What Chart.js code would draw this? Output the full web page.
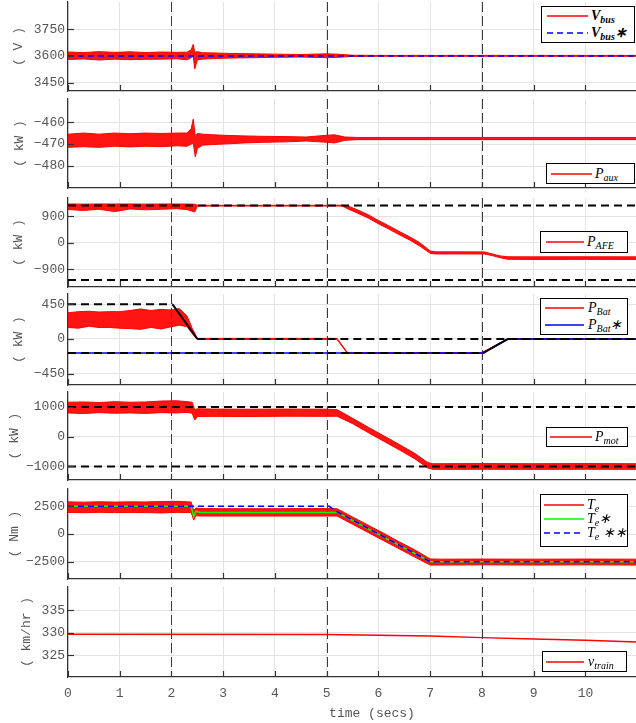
<!DOCTYPE html>
<html><head><meta charset="utf-8">
<script src="https://cdn.jsdelivr.net/npm/chart.js@4"></script>
<style>
html,body{margin:0;padding:0;background:#fff;}
#wrap{position:relative;width:636px;height:723px;overflow:hidden;background:#fff;}
#wrap canvas{position:absolute;left:0;}
.lg{position:absolute;background:#fff;border:1px solid #000;box-sizing:border-box;font-family:"Liberation Serif","Times New Roman",serif;font-style:italic;font-size:14px;color:#000;}
.lg svg{position:absolute;}
.lg span{position:absolute;line-height:18px;white-space:nowrap;}
.lg sub{font-size:10px;vertical-align:-3px;line-height:0;}
</style></head>
<body><div id="wrap"></div>
<script>
// ---------------- data ----------------
const xTicks = [0,1,2,3,4,5,6,7,8,9,10];
const eventTimes = [2,5,8];

// Panel 1: V_bus (noise envelope)
const vbusTicks = [3450,3600,3750];
const vbusT  = [0,0.3,0.6,0.9,1.2,1.5,1.8,2.1,2.3,2.38,2.42,2.45,2.5,2.6,2.8,3.0,3.3,3.6,4.0,4.5,5.0,5.2,5.5,6.0,11];
const vbusHi = [3622,3619,3624,3620,3623,3619,3622,3620,3621,3635,3665,3620,3624,3618,3617,3615,3613,3612,3610,3608,3612,3610,3604,3603,3603];
const vbusLo = [3580,3583,3577,3582,3579,3581,3582,3584,3578,3590,3598,3527,3578,3582,3585,3587,3589,3590,3592,3594,3590,3592,3597,3598,3598];
const vbusRefT = [0,11];
const vbusRef  = [3600,3600];

// Panel 2: P_aux
const pauxTicks = [-480,-470,-460];
const pauxT  = [0,0.3,0.6,0.9,1.2,1.5,1.8,2.1,2.3,2.38,2.42,2.46,2.5,2.6,2.8,3.0,3.4,3.8,4.2,4.6,5.0,5.15,5.35,5.6,11];
const pauxHi = [-465.5,-465,-465.5,-465,-465.3,-465,-465.2,-465,-465,-463,-458.7,-466.5,-465.2,-465.5,-465.8,-466,-466.3,-466.5,-466.6,-466.8,-466,-465.8,-466.8,-467,-467];
const pauxLo = [-471.5,-471.2,-471.5,-471,-471.3,-471,-471.2,-470.8,-471,-470,-469.5,-475.8,-472,-470.5,-470.2,-470,-469.5,-469.2,-469,-468.6,-469.2,-469.5,-468.3,-468,-468];

// Panel 3: P_AFE
const afeTicks = [-900,0,900];
const afeT  = [0,0.3,0.6,0.9,1.2,1.5,1.8,2.1,2.3,2.45,2.5,5.3,5.4,5.6,5.8,6.0,6.2,6.4,6.6,6.8,7.0,7.1,7.5,8.05,8.2,8.35,8.5,9,10,11];
const afeHi = [1320,1315,1320,1318,1320,1315,1320,1320,1318,1310,1275,1275,1260,1115,955,755,575,385,205,-5,-280,-310,-312,-315,-385,-450,-480,-482,-480,-482];
const afeLo = [1130,1100,1140,1060,1150,1120,1140,1160,1130,1050,1250,1250,1160,1005,845,645,465,275,95,-115,-360,-385,-383,-385,-440,-510,-565,-570,-568,-570];
const afeLimT = [0,11];
const afeUp   = [1270,1270];
const afeDn   = [-1270,-1270];

// Panel 4: P_Bat
const pbatTicks = [-450,0,450];
const pbatT  = [0,0.2,0.4,0.6,0.8,1.0,1.2,1.4,1.6,1.8,2.0,2.15,2.3,2.4,2.5,5.2,5.4,8.0,8.5,11];
const pbatHi = [340,355,360,350,355,355,370,390,370,385,375,395,300,140,8,8,-176,-176,6,6];
const pbatLo = [150,140,165,150,150,140,135,125,150,130,160,180,160,70,-6,-6,-188,-188,-6,-6];
const pbatUpT = [0,2.02,2.5,11];
const pbatUp  = [450,450,0,0];
const pbatDnT = [0,8.02,8.5,11];
const pbatDn  = [-182,-182,0,0];
const pbatRefT = [0,8.02,8.5,11];
const pbatRef  = [-182,-182,0,0];

// Panel 5: P_mot
const pmotTicks = [-1000,0,1000];
const pmotT  = [0,0.3,0.6,0.9,1.2,1.5,1.8,2.1,2.3,2.4,2.45,2.5,2.8,3.5,4.2,5.0,5.2,5.5,5.8,6.1,6.4,6.7,6.95,7.05,8,9,10,11];
const pmotHi = [1160,1170,1150,1180,1160,1170,1200,1210,1180,1160,900,940,930,925,930,925,910,620,320,30,-260,-560,-870,-910,-905,-910,-905,-910];
const pmotLo = [800,780,810,790,800,785,810,800,820,790,560,680,685,680,690,685,690,440,140,-150,-440,-740,-1050,-1100,-1095,-1100,-1095,-1100];
const pmotLimT = [0,11];
const pmotUp   = [1000,1000];
const pmotDn   = [-1000,-1000];

// Panel 6: T_e
const teTicks = [-2500,0,2500];
const teT  = [0,0.3,0.6,0.9,1.2,1.5,1.8,2.1,2.3,2.38,2.43,2.47,2.55,3,4,5,5.2,5.5,5.8,6.1,6.4,6.7,7.0,7.2,8,9,10,11];
const teHi = [2900,2870,2910,2880,2900,2890,2930,2950,2900,2880,2100,2350,2300,2280,2280,2300,2280,1530,800,60,-700,-1430,-2250,-2270,-2260,-2270,-2260,-2270];
const teLo = [1950,1920,1960,1930,1950,1930,1900,1950,1940,1950,1250,1650,1620,1620,1620,1620,1620,880,140,-600,-1340,-2080,-2800,-2800,-2780,-2800,-2780,-2800];
const teStarT = [0,2.38,2.43,2.47,2.55,5.2,7.0,11];
const teStar  = [2500,2500,1550,2050,1950,1950,-2500,-2500];
const teRefT  = [0,5.05,5.2,7.0,11];
const teRef   = [2500,2500,2000,-2500,-2500];

// Panel 7: v_train
const vTicks = [325,330,335];
const vT     = [0,5,6,7,8,9,10,11];
const vTrain = [329.7,329.65,329.5,329.3,328.95,328.65,328.35,328.0];

// ---------------- drawing ----------------
const X_MAX = 11.75;
const PAD = 14;
const RED = '#ff0000', BLUE = '#0000ff', GREEN = '#00ff00', BLK = '#000000';
const FILL = 'rgba(255,0,0,0.92)';
const MONO = '"Liberation Mono","DejaVu Sans Mono",monospace';
const TXT = '#555555';
const wrap = document.getElementById('wrap');

function pts(t, v){ return t.map((x,i)=>({x:x, y:v[i]})); }
function fmt(v){ return v < 0 ? '\u2212' + Math.abs(v) : String(v); }
function line(t, v, color, width, dash){
  return {data:pts(t,v), borderColor:color, borderWidth:width, borderDash:dash||[], pointRadius:0, fill:false, tension:0};
}
function limit(t, v){
  return {data:pts(t,v), borderColor:BLK, borderWidth:2, borderDash:[], pointRadius:0, fill:false, tension:0,
    segment:{borderDash: c => (c.p0.parsed.y === c.p1.parsed.y ? [8,5] : [])}};
}
function band(t, hi, lo){
  return [
    {data:pts(t,hi), borderColor:RED, borderWidth:1, pointRadius:0, fill:'+1', backgroundColor:FILL, tension:0},
    {data:pts(t,lo), borderColor:RED, borderWidth:1, pointRadius:0, fill:false, tension:0}
  ];
}

const decor = {
  id:'decor',
  beforeDatasetsDraw(chart){
    const {ctx, chartArea:a, scales:{x}} = chart;
    ctx.save();
    ctx.beginPath(); ctx.rect(a.left, a.top, a.right-a.left, a.bottom-a.top); ctx.clip();
    ctx.strokeStyle = '#3a3a3a'; ctx.lineWidth = 1; ctx.setLineDash([10,4]);
    eventTimes.forEach(v => {
      const px = Math.round(x.getPixelForValue(v)) + 0.5;
      ctx.beginPath(); ctx.moveTo(px, a.top); ctx.lineTo(px, a.bottom); ctx.stroke();
    });
    ctx.restore();
  },
  afterDraw(chart){
    const {ctx, chartArea:a, scales:{x, y}} = chart;
    ctx.save();
    ctx.strokeStyle = '#333'; ctx.lineWidth = 1.2; ctx.setLineDash([]);
    y.ticks.forEach(t => {
      const py = Math.round(y.getPixelForValue(t.value)) + 0.5;
      ctx.beginPath(); ctx.moveTo(a.left, py); ctx.lineTo(a.left + 6, py); ctx.stroke();
    });
    x.ticks.forEach(t => {
      const px = Math.round(x.getPixelForValue(t.value)) + 0.5;
      ctx.beginPath(); ctx.moveTo(px, a.bottom); ctx.lineTo(px, a.bottom - 6); ctx.stroke();
    });
    ctx.restore();
  }
};

function panel(p){
  const last = !!p.last;
  const h = p.h + PAD + (last ? 46 : PAD);
  const cv = document.createElement('canvas');
  cv.width = 676; cv.height = h;
  cv.style.width = '676px'; cv.style.height = h + 'px';
  cv.style.top = (p.top - PAD) + 'px';
  wrap.appendChild(cv);
  new Chart(cv, {
    type:'line',
    data:{datasets:p.datasets},
    plugins:[decor],
    options:{
      responsive:false, animation:false, devicePixelRatio:1,
      layout:{padding:{top:PAD, bottom:last?0:PAD, left:0, right:0}},
      plugins:{legend:{display:false}, tooltip:{enabled:false}},
      scales:{
        x:{type:'linear', min:0, max:X_MAX,
          afterBuildTicks: s => { s.ticks = xTicks.map(v => ({value:v})); },
          afterFit: s => { s.height = last ? 46 : 0; },
          grid:{color:'#e3e3e3', lineWidth:1, drawTicks:false},
          border:{display:true, color:'#333', width:1.2},
          ticks:{display:last, padding:9, autoSkip:false, maxRotation:0, font:{family:MONO, size:13}, color:TXT},
          title:{display:last, text:'time (secs)', font:{family:MONO, size:13}, color:TXT, padding:{top:0, bottom:2}}
        },
        y:{type:'linear', min:p.min, max:p.max,
          afterBuildTicks: s => { s.ticks = p.ticks.map(v => ({value:v})); },
          afterFit: s => { s.width = 68; },
          grid:{color:'#e3e3e3', lineWidth:1, drawTicks:false},
          border:{display:true, color:'#333', width:1.2},
          ticks:{padding:3, font:{family:MONO, size:13}, color:TXT, callback: v => fmt(v)},
          title:{display:true, text:p.title, font:{family:MONO, size:13}, color:TXT, padding:{top:p.tpad, bottom:0}}
        }
      }
    }
  });
}

panel({top:2, h:89, min:3403, max:3903, ticks:vbusTicks, title:'( V )', tpad:11,
  datasets:[line(vbusRefT, vbusRef, BLUE, 1.5, [6,4]), ...band(vbusT, vbusHi, vbusLo)]});
panel({top:99, h:89, min:-490, max:-449.5, ticks:pauxTicks, title:'( kW )', tpad:12,
  datasets:[...band(pauxT, pauxHi, pauxLo)]});
panel({top:198, h:89, min:-1510, max:1524, ticks:afeTicks, title:'( kW )', tpad:11,
  datasets:[line(afeLimT, afeUp, BLK, 2, [8,5]), line(afeLimT, afeDn, BLK, 2, [8,5]), ...band(afeT, afeHi, afeLo)]});
panel({top:294, h:91, min:-597, max:584, ticks:pbatTicks, title:'( kW )', tpad:11,
  datasets:[limit(pbatUpT, pbatUp), limit(pbatDnT, pbatDn), line(pbatRefT, pbatRef, BLUE, 1.5), ...band(pbatT, pbatHi, pbatLo)]});
panel({top:392, h:88, min:-1458, max:1505, ticks:pmotTicks, title:'( kW )', tpad:7,
  datasets:[line(pmotLimT, pmotUp, BLK, 2, [8,5]), line(pmotLimT, pmotDn, BLK, 2, [8,5]), ...band(pmotT, pmotHi, pmotLo)]});
panel({top:489, h:90, min:-4060, max:4060, ticks:teTicks, title:'( Nm )', tpad:7,
  datasets:[line(teRefT, teRef, BLUE, 1.5, [6,4]), line(teStarT, teStar, GREEN, 1.5), ...band(teT, teHi, teLo)]});
panel({top:587, h:90, min:320.2, max:340.2, ticks:vTicks, title:'( km/hr )', tpad:19, last:true,
  datasets:[line(vT, vTrain, RED, 1.5)]});

// ---------------- legends ----------------
const legends = [
  {box:[541,6,94,37], rows:[
    {y:16, x1:547, x2:588, tx:591, c:RED, h:'<b>V<sub>bus</sub></b>'},
    {y:33, x1:547, x2:588, tx:591, c:BLUE, dash:'6,4', h:'<b>V<sub>bus</sub>\u2217</b>'}]},
  {box:[546,163,89,21], rows:[{y:173.5, x1:551, x2:592, tx:595, c:RED, h:'P<sub>aux</sub>'}]},
  {box:[540,231,88,22], rows:[{y:242, x1:546, x2:584, tx:587, c:RED, h:'P<sub>AFE</sub>'}]},
  {box:[540,298,88,37], rows:[
    {y:308, x1:545, x2:584, tx:588, c:RED, h:'P<sub>Bat</sub>'},
    {y:324.5, x1:545, x2:584, tx:588, c:BLUE, h:'P<sub>Bat</sub>\u2217'}]},
  {box:[546,427,82,20], rows:[{y:437, x1:550, x2:592, tx:595, c:RED, h:'P<sub>mot</sub>'}]},
  {box:[540,494,88,53], rows:[
    {y:505, x1:544, x2:584, tx:587, c:RED, h:'T<sub>e</sub>'},
    {y:519, x1:544, x2:584, tx:587, c:GREEN, h:'T<sub>e</sub>\u2217'},
    {y:533, x1:544, x2:584, tx:587, c:BLUE, dash:'6,4', h:'T<sub>e</sub> \u2217\u2217'}]},
  {box:[542,651,85,21], rows:[{y:661.5, x1:546, x2:584, tx:588, c:RED, h:'v<sub>train</sub>'}]}
];
legends.forEach(L => {
  const [bl, bt, bw, bh] = L.box;
  const d = document.createElement('div');
  d.className = 'lg';
  d.style.left = bl + 'px'; d.style.top = bt + 'px'; d.style.width = bw + 'px'; d.style.height = bh + 'px';
  let html = '';
  L.rows.forEach(r => {
    const w = r.x2 - r.x1;
    html += `<svg style="left:${r.x1-bl-1}px;top:${r.y-bt-3}px" width="${w}" height="4"><line x1="0" y1="2" x2="${w}" y2="2" stroke="${r.c}" stroke-width="1.5" ${r.dash?`stroke-dasharray="${r.dash}"`:''}/></svg>`;
    html += `<span style="left:${r.tx-bl-1}px;top:${r.y-bt-10}px">${r.h}</span>`;
  });
  d.innerHTML = html;
  wrap.appendChild(d);
});
</script>
</body></html>
